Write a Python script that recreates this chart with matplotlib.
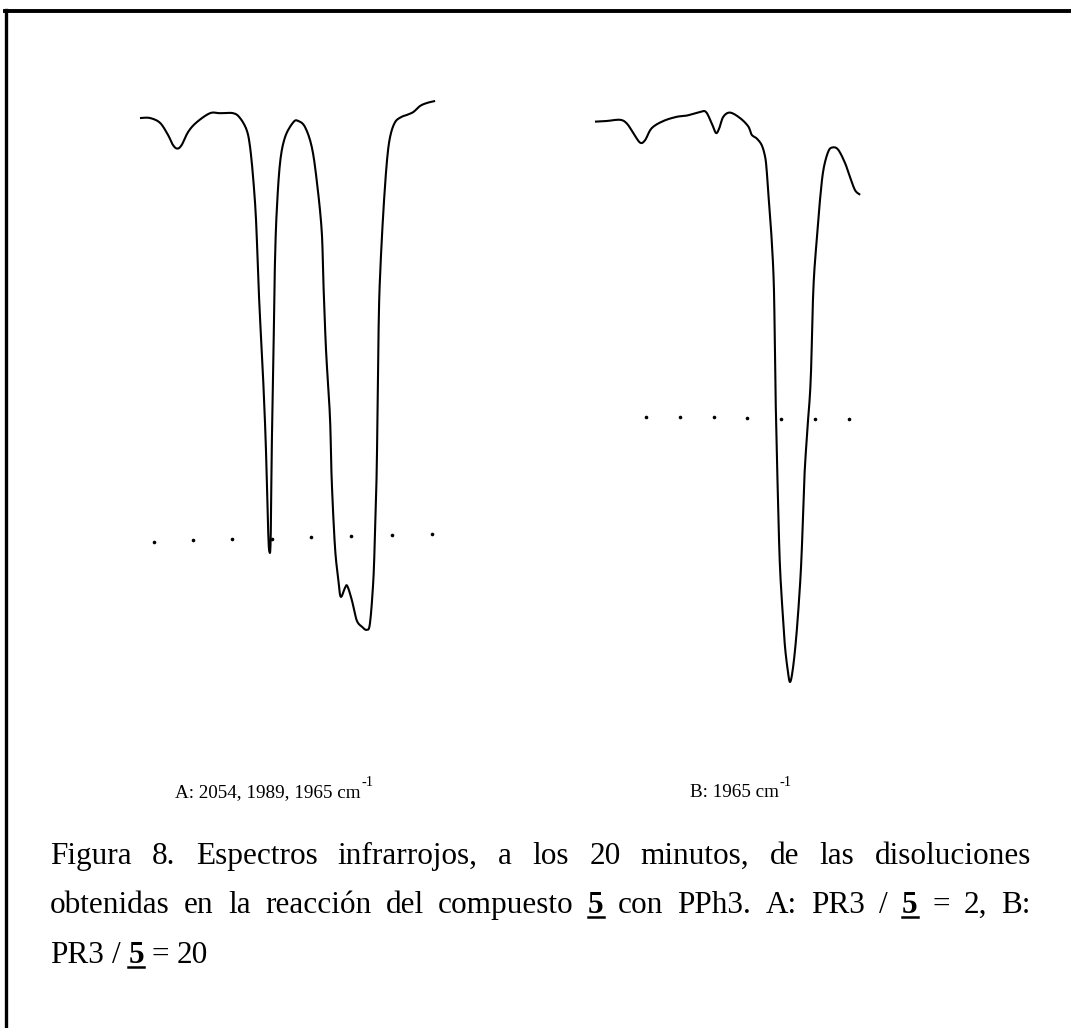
"""IR spectra (Figura 8): two traces A and B with caption."""

import matplotlib
matplotlib.use("Agg")
import matplotlib.pyplot as plt
from matplotlib.lines import Line2D
import numpy as np

W, H = 1071, 1028
SERIF = "Liberation Serif"

# Spectrum A: PR3 / 5 = 2  (wavenumber cm-1, transmittance %)
wn_a = [2172.3, 2164.1, 2154.9, 2147.6, 2143.0, 2139.0, 2135.0, 2129.0, 2121.2, 2109.0,
        2099.9, 2087.7, 2081.5, 2075.4, 2072.3, 2069.3, 2066.8, 2064.7, 2063.2, 2060.1,
        2057.7, 2055.6, 2054.5, 2053.4, 2052.4, 2051.2, 2050.3, 2049.4, 2047.9, 2044.8,
        2040.2, 2032.6, 2028.0, 2021.9, 2015.7, 2011.2, 2006.6, 2005.1, 2002.6, 1999.0,
        1997.4, 1994.4, 1991.3, 1989.1, 1985.2, 1983.1, 1979.0, 1974.5, 1969.6, 1965.3,
        1962.3, 1959.2, 1957.7, 1956.3, 1955.4, 1954.2, 1952.8, 1950.1, 1946.9, 1943.9,
        1939.3, 1933.2, 1928.6, 1922.5, 1916.4, 1910.2, 1903.5]
t_a = [97.0, 97.0, 96.2, 94.2, 92.5, 91.9, 92.5, 94.7, 96.3, 97.8,
       97.8, 97.8, 97.0, 95.0, 92.2, 86.7, 80.0, 70.0, 63.9, 52.8,
       41.7, 27.8, 24.7, 26.7, 41.7, 52.8, 63.8, 73.3, 81.2, 89.5,
       93.8, 96.3, 96.5, 95.5, 92.2, 86.7, 78.3, 70.0, 58.3, 47.2,
       36.7, 25.5, 20.0, 17.2, 18.7, 19.0, 16.7, 13.3, 12.2, 11.7,
       12.8, 20.0, 27.8, 36.7, 47.2, 63.8, 71.7, 81.2, 89.5, 93.8,
       96.3, 97.2, 97.5, 98.0, 99.0, 99.5, 99.8]
dots_wn_a = [2160.4, 2124.4, 2088.6, 2052.4, 2016.7, 1979.7, 1942.1, 1905.1]
dots_t_a = [26.4, 26.6, 26.8, 26.9, 27.2, 27.3, 27.5, 27.7]

# Spectrum B: PR3 / 5 = 20
wn_b = [2143.0, 2133.2, 2121.0, 2114.8, 2108.8, 2102.6, 2098.0, 2091.9, 2081.2, 2068.9,
        2059.8, 2047.6, 2042.1, 2036.8, 2032.9, 2029.9, 2026.2, 2020.0, 2010.9, 2003.3,
        2000.1, 1995.6, 1991.0, 1987.9, 1986.4, 1984.0, 1981.8, 1979.7, 1978.5, 1977.2,
        1975.7, 1974.2, 1971.7, 1969.6, 1967.1, 1965.0, 1962.5, 1959.5, 1956.5, 1954.3,
        1951.9, 1949.1, 1946.0, 1943.6, 1940.5, 1937.5, 1934.4, 1929.9, 1925.8, 1920.7,
        1914.5, 1910.0, 1905.4, 1901.4]
t_b = [96.4, 96.5, 96.7, 96.1, 94.5, 92.9, 93.3, 95.3, 96.5, 97.2,
       97.4, 98.0, 98.0, 96.1, 94.5, 95.3, 97.2, 97.9, 97.0, 95.6,
       94.2, 93.6, 92.5, 90.6, 88.3, 82.2, 76.7, 68.3, 53.3, 42.2,
       31.1, 22.2, 14.4, 8.9, 5.0, 3.0, 5.0, 10.0, 17.2, 24.4,
       36.7, 45.0, 53.3, 68.3, 76.7, 83.3, 88.3, 91.4, 92.1, 91.7,
       89.5, 87.2, 85.0, 84.3]
dots_wn_b = [2097.1, 2065.9, 2034.7, 2004.4, 1973.0, 1942.1, 1911.1]
dots_t_b = [47.2, 47.2, 47.1, 47.0, 46.9, 46.9, 46.9]

label_a = "A: 2054, 1989, 1965 cm"
label_b = "B: 1965 cm"
label_sup = "-1"

# caption words; "<5>" marks the bold underlined compound number
caption_1 = "Figura 8. Espectros infrarrojos, a los 20 minutos, de las disoluciones"
caption_2 = "obtenidas en la reacción del compuesto <5> con PPh3. A: PR3 / <5> = 2, B:"
caption_3 = "PR3 / <5> = 20"


def fx(x):
    return x / W


def fy(y):
    return 1 - y / H


def smooth(x, y, n=8):
    """Uniform Catmull-Rom through the traced points (affine invariant)."""
    p = np.column_stack([x, y]).astype(float)
    p = np.vstack([p[0], p, p[-1]])
    s = np.linspace(0, 1, n, endpoint=False)[:, None]
    out = []
    for i in range(1, len(p) - 2):
        p0, p1, p2, p3 = p[i - 1], p[i], p[i + 1], p[i + 2]
        out.append(0.5 * ((2 * p1) + (-p0 + p2) * s
                          + (2 * p0 - 5 * p1 + 4 * p2 - p3) * s ** 2
                          + (-p0 + 3 * p1 - 3 * p2 + p3) * s ** 3))
    out.append(p[-2][None, :])
    out = np.vstack(out)
    return out[:, 0], out[:, 1]


fig = plt.figure(figsize=(W / 100, H / 100), dpi=100)
renderer = fig.canvas.get_renderer()


def add_spectrum(left, right, xlim, wn, t, dwn, dt):
    ax = fig.add_axes([fx(left), fy(700), (right - left) / W, 600 / H])
    sx, sy = smooth(wn, t)
    ax.plot(sx, sy, color="black", lw=1.5, solid_joinstyle="round")
    ax.plot(dwn, dt, "o", color="black", ms=2.6, mew=0)
    ax.set_xlim(*xlim)
    ax.set_ylim(0, 100)
    ax.axis("off")
    return ax


add_spectrum(130, 450, (2182.4, 1888.9), wn_a, t_a, dots_wn_a, dots_t_a)
add_spectrum(580, 880, (2157.7, 1882.4), wn_b, t_b, dots_wn_b, dots_t_b)


def put(s, x, y, size, bold=False):
    t = fig.text(fx(x), fy(y), s, fontsize=size, family=SERIF, va="baseline",
                 fontweight="bold" if bold else "normal")
    return t.get_window_extent(renderer).width


def measure(s, size, bold=False):
    t = fig.text(0, 0, s, fontsize=size, family=SERIF,
                 fontweight="bold" if bold else "normal")
    w = t.get_window_extent(renderer).width
    t.remove()
    return w


def draw_word(word, x, y, size):
    if word == "<5>":
        w = put("5", x, y, size, bold=True)
        fig.add_artist(Line2D([fx(x), fx(x + w)], [fy(y + 4), fy(y + 4)],
                              color="black", lw=1.8))
        return w
    return put(word, x, y, size)


def word_width(word, size):
    return measure("5", size, True) if word == "<5>" else measure(word, size)


def draw_line(text, y, size, x0, x1=None):
    words = text.split()
    widths = [word_width(w, size) for w in words]
    if x1 is None:
        gap = measure("a a", size) - measure("aa", size)
    else:
        gap = (x1 - x0 - sum(widths)) / (len(words) - 1)
    x = x0
    for w, ww in zip(words, widths):
        draw_word(w, x, y, size)
        x += ww + gap


# labels under the spectra
for lab, x0 in [(label_a, 175), (label_b, 690)]:
    w = put(lab, x0, 797, 13.8)
    put(label_sup, x0 + w + 1, 786, 10.5)

draw_line(caption_1, 864, 22.5, 50, 1031)
draw_line(caption_2, 913, 22.5, 50, 1031)
draw_line(caption_3, 963, 22.5, 50)

# frame (top and left edges)
fig.add_artist(Line2D([fx(5), fx(1071)], [fy(11), fy(11)], color="black", lw=2.8))
fig.add_artist(Line2D([fx(6), fx(6)], [fy(10), fy(1028)], color="black", lw=2.4))

fig.savefig("out.png", dpi=100, facecolor="white")
